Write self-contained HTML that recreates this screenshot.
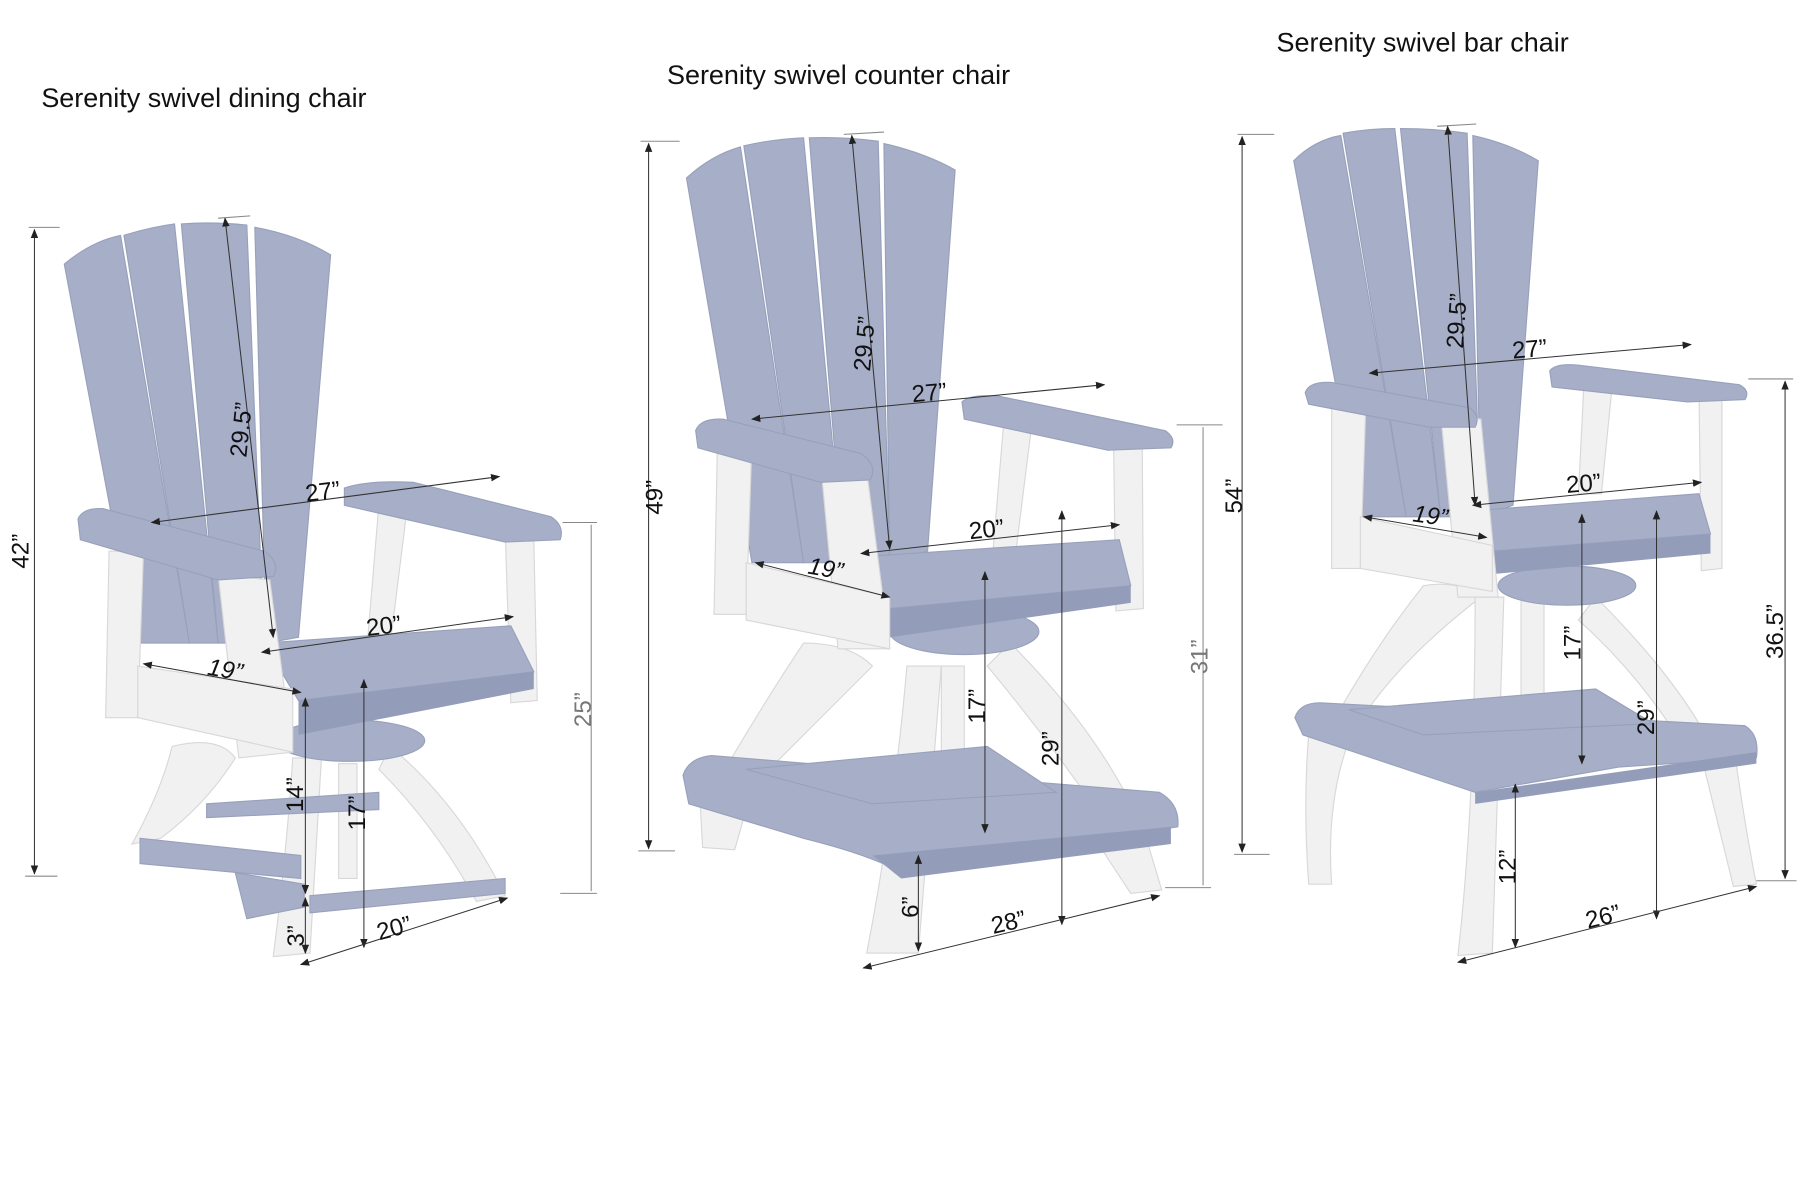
<!DOCTYPE html>
<html><head><meta charset="utf-8"><style>
html,body{margin:0;padding:0;background:#fff;}
svg{display:block;}
text{font-family:"Liberation Sans",sans-serif;fill:#111;}
.b{fill:#a7afc8;stroke:#98a1bb;stroke-width:1;}
.bd{fill:#939dba;}
.w{fill:#f1f1f2;stroke:#d8d8da;stroke-width:1;}
.d{stroke:#333;stroke-width:0.9;fill:none;}
.dg{stroke:#888;stroke-width:0.9;fill:none;}
.t{font-size:21px;}
.h{font-size:23.5px;}
</style></head><body>
<svg width="1800" height="1200" viewBox="0 0 1568 1045" preserveAspectRatio="none" xmlns="http://www.w3.org/2000/svg">
<defs>
<marker id="a" viewBox="0 0 10 10" refX="9" refY="5" markerWidth="9" markerHeight="9" orient="auto-start-reverse"><path d="M0,1 L10,5 L0,9z" fill="#222"/></marker>
</defs>
<rect width="1568" height="1045" fill="#fff"/>

<text class="h" x="36" y="93">Serenity swivel dining chair</text>
<text class="h" x="581" y="73">Serenity swivel counter chair</text>
<text class="h" x="1112" y="45">Serenity swivel bar chair</text>

<!-- ===== Dining chair ===== -->
<g>
<path class="w" d="M150,650 Q190,640 205,660 Q180,700 140,730 L115,735 Q140,690 150,650z"/>
<path class="w" d="M340,650 Q400,700 440,780 L415,785 Q380,720 330,670z"/>
<path class="w" d="M255,660 L280,660 L270,830 L238,833 Q250,740 255,660z"/>
<rect class="w" x="295" y="665" width="16" height="100"/>
<path class="b" d="M122,730 L262,745 L262,765 L122,752z"/>
<path class="b" d="M180,700 L330,690 L330,705 L180,712z"/>
<path class="b" d="M270,780 L440,765 L440,778 L270,795z"/>
<path class="b" d="M205,760 L265,770 L265,790 L215,800z"/>
<ellipse class="b" cx="305" cy="645" rx="65" ry="18"/>
<path class="b" d="M56,230 Q80,210 105,205 L165,560 L118,560z"/>
<path class="b" d="M108,205 Q130,198 152,195 L190,560 L165,560z"/>
<path class="b" d="M158,195 Q185,193 215,196 L230,560 L190,560z"/>
<path class="b" d="M222,198 Q260,205 288,222 L260,555 L232,560z"/>
<path class="w" d="M330,440 L355,440 L340,560 L320,560z"/>
<path class="w" d="M440,460 L465,470 L468,610 L445,612z"/>
<path class="b" d="M230,560 L445,545 L465,585 L260,610z"/>
<path class="bd" d="M260,610 L465,585 L465,600 L260,640z"/>
<path class="w" d="M95,480 L125,480 L120,625 L92,625z"/>
<path class="w" d="M190,500 L235,505 L255,655 L208,660z"/>
<path class="w" d="M120,580 L255,600 L255,655 L120,625z"/>
<path class="b" d="M300,425 Q320,418 360,420 L480,450 Q492,458 488,470 L440,472 L300,440z"/>
<path class="b" d="M68,452 Q72,442 90,443 L230,480 Q245,490 238,502 L190,505 L70,470z"/>
</g>
<line class="dg" x1="25" y1="198" x2="52" y2="198"/><line class="dg" x1="22" y1="763" x2="50" y2="763"/>
<line class="d" x1="30" y1="200" x2="30" y2="761" marker-start="url(#a)" marker-end="url(#a)"/>
<text class="t" transform="translate(25,480) rotate(-90)" text-anchor="middle">42”</text>
<line class="dg" x1="190" y1="190" x2="218" y2="188"/>
<line class="d" x1="196" y1="190" x2="238" y2="555" marker-start="url(#a)" marker-end="url(#a)"/>
<text class="t" transform="translate(217,375) rotate(-84)" text-anchor="middle">29.5”</text>
<line class="d" x1="132" y1="455" x2="435" y2="415" marker-start="url(#a)" marker-end="url(#a)"/>
<text class="t" x="282" y="435" text-anchor="middle" transform="rotate(-7 282 435)">27”</text>
<line class="d" x1="228" y1="568" x2="447" y2="537" marker-start="url(#a)" marker-end="url(#a)"/>
<text class="t" x="335" y="552" text-anchor="middle" transform="rotate(-7 335 552)">20”</text>
<line class="d" x1="125" y1="578" x2="262" y2="603" marker-start="url(#a)" marker-end="url(#a)"/>
<text class="t" x="195" y="590" text-anchor="middle" font-style="italic" transform="rotate(10 195 590)">19”</text>
<line class="d" x1="266" y1="608" x2="266" y2="778" marker-start="url(#a)" marker-end="url(#a)"/>
<text class="t" transform="translate(264,692) rotate(-90)" text-anchor="middle">14”</text>
<line class="d" x1="317" y1="592" x2="317" y2="825" marker-start="url(#a)" marker-end="url(#a)"/>
<text class="t" transform="translate(318,708) rotate(-90)" text-anchor="middle">17”</text>
<line class="d" x1="266" y1="782" x2="266" y2="830" marker-start="url(#a)" marker-end="url(#a)"/>
<text class="t" transform="translate(265,815) rotate(-90)" text-anchor="middle">3”</text>
<line class="d" x1="262" y1="840" x2="442" y2="782" marker-start="url(#a)" marker-end="url(#a)"/>
<text class="t" x="345" y="815" text-anchor="middle" transform="rotate(-15 345 815)">20”</text>
<line class="dg" x1="490" y1="455" x2="520" y2="455"/><line class="dg" x1="488" y1="778" x2="520" y2="778"/>
<line class="dg" x1="515" y1="457" x2="515" y2="776"/>
<text class="t" transform="translate(515,618) rotate(-90)" text-anchor="middle" style="fill:#777">25”</text>

<!-- ===== Counter chair ===== -->
<g>
<path class="w" d="M700,560 Q740,560 760,580 Q700,640 650,690 L620,690 Q660,620 700,560z"/>
<path class="w" d="M880,560 Q950,630 985,700 L955,705 Q910,640 860,580z"/>
<path class="w" d="M790,580 L820,580 L800,830 L755,830 Q780,700 790,580z"/>
<rect class="w" x="820" y="580" width="20" height="100"/>
<path class="w" d="M610,700 L650,705 L640,740 L612,738z"/>
<path class="w" d="M960,740 L1000,735 L1012,775 L985,778z"/>
<ellipse class="b" cx="840" cy="550" rx="65" ry="20"/>
<path class="b" d="M595,675 Q600,660 620,658 L1010,690 Q1028,700 1026,720 L930,735 L785,760 Q760,745 700,730 L600,700z"/>
<path class="bd" d="M760,745 L1020,720 L1020,735 L785,765z"/>
<path class="b" d="M650,670 L860,650 L920,690 L760,700z"/>
<path class="b" d="M598,155 Q620,135 645,128 L700,490 L655,490z"/>
<path class="b" d="M648,127 Q675,121 700,120 L735,490 L700,490z"/>
<path class="b" d="M705,120 Q735,119 765,123 L775,490 L735,490z"/>
<path class="b" d="M770,125 Q805,133 832,148 L808,480 L775,490z"/>
<path class="w" d="M875,360 L900,360 L885,480 L865,480z"/>
<path class="w" d="M970,380 L995,385 L996,530 L972,532z"/>
<path class="b" d="M748,485 L975,470 L985,510 L775,530z"/>
<path class="bd" d="M775,530 L985,510 L985,525 L775,555z"/>
<path class="w" d="M625,385 L655,385 L650,535 L622,535z"/>
<path class="w" d="M715,405 L755,410 L775,565 L730,565z"/>
<path class="w" d="M650,490 L775,520 L775,565 L650,540z"/>
<path class="b" d="M838,350 Q845,343 870,345 L1015,375 Q1025,382 1020,390 L965,392 L840,365z"/>
<path class="b" d="M606,375 Q610,364 630,365 L750,395 Q765,405 758,418 L715,420 L608,390z"/>
</g>
<line class="dg" x1="558" y1="123" x2="592" y2="123"/><line class="dg" x1="556" y1="741" x2="588" y2="741"/>
<line class="d" x1="565" y1="125" x2="565" y2="739" marker-start="url(#a)" marker-end="url(#a)"/>
<text class="t" transform="translate(577,433) rotate(-90)" text-anchor="middle">49”</text>
<line class="dg" x1="735" y1="117" x2="770" y2="115"/>
<line class="d" x1="742" y1="118" x2="775" y2="478" marker-start="url(#a)" marker-end="url(#a)"/>
<text class="t" transform="translate(760,300) rotate(-85)" text-anchor="middle">29.5”</text>
<line class="d" x1="655" y1="365" x2="962" y2="335" marker-start="url(#a)" marker-end="url(#a)"/>
<text class="t" x="810" y="349" text-anchor="middle" transform="rotate(-5 810 349)">27”</text>
<line class="d" x1="750" y1="482" x2="975" y2="457" marker-start="url(#a)" marker-end="url(#a)"/>
<text class="t" x="860" y="468" text-anchor="middle" transform="rotate(-6 860 468)">20”</text>
<line class="d" x1="658" y1="490" x2="775" y2="520" marker-start="url(#a)" marker-end="url(#a)"/>
<text class="t" x="718" y="502" text-anchor="middle" font-style="italic" transform="rotate(10 718 502)">19”</text>
<line class="d" x1="858" y1="498" x2="858" y2="725" marker-start="url(#a)" marker-end="url(#a)"/>
<text class="t" transform="translate(858,615) rotate(-90)" text-anchor="middle">17”</text>
<line class="d" x1="925" y1="445" x2="925" y2="805" marker-start="url(#a)" marker-end="url(#a)"/>
<text class="t" transform="translate(922,652) rotate(-90)" text-anchor="middle">29”</text>
<line class="d" x1="800" y1="745" x2="800" y2="828" marker-start="url(#a)" marker-end="url(#a)"/>
<text class="t" transform="translate(800,790) rotate(-90)" text-anchor="middle">6”</text>
<line class="d" x1="752" y1="843" x2="1010" y2="780" marker-start="url(#a)" marker-end="url(#a)"/>
<text class="t" x="880" y="810" text-anchor="middle" transform="rotate(-13 880 810)">28”</text>
<line class="dg" x1="1025" y1="370" x2="1065" y2="370"/><line class="dg" x1="1015" y1="773" x2="1055" y2="773"/>
<line class="dg" x1="1048" y1="372" x2="1048" y2="771"/>
<text class="t" transform="translate(1052,572) rotate(-90)" text-anchor="middle" style="fill:#777">31”</text>

<!-- ===== Bar chair ===== -->
<g>
<path class="w" d="M1240,510 Q1270,505 1290,520 Q1225,570 1190,620 L1165,622 Q1200,560 1240,510z"/>
<path class="w" d="M1390,520 Q1450,580 1480,630 L1455,632 Q1420,580 1375,540z"/>
<rect class="w" x="1325" y="520" width="20" height="110"/>
<path class="w" d="M1285,520 L1310,520 L1300,830 L1270,832 Q1285,700 1285,520z"/>
<path class="w" d="M1140,640 L1175,645 Q1155,700 1160,770 L1140,770 Q1135,700 1140,640z"/>
<path class="w" d="M1480,650 L1510,648 Q1520,720 1530,770 L1510,772 Q1495,710 1480,650z"/>
<ellipse class="b" cx="1365" cy="510" rx="60" ry="17"/>
<path class="b" d="M1128,625 Q1132,612 1150,612 L1520,632 Q1533,640 1530,660 L1410,668 L1285,690 L1135,640z"/>
<path class="bd" d="M1285,690 L1530,655 L1530,665 L1285,700z"/>
<path class="b" d="M1175,618 L1390,600 L1440,630 L1240,640z"/>
<path class="b" d="M1127,140 Q1145,122 1168,118 L1225,450 L1185,450z"/>
<path class="b" d="M1170,116 Q1193,112 1215,112 L1255,450 L1225,450z"/>
<path class="b" d="M1220,112 Q1250,112 1278,116 L1290,450 L1255,450z"/>
<path class="b" d="M1283,118 Q1315,125 1340,140 L1318,440 L1290,450z"/>
<path class="w" d="M1380,330 L1405,330 L1395,430 L1375,430z"/>
<path class="w" d="M1480,340 L1500,345 L1500,495 L1482,497z"/>
<path class="b" d="M1280,445 L1480,430 L1490,465 L1300,480z"/>
<path class="bd" d="M1300,480 L1490,465 L1490,482 L1300,500z"/>
<path class="w" d="M1160,345 L1190,345 L1185,495 L1160,495z"/>
<path class="w" d="M1255,360 L1290,365 L1305,520 L1270,520z"/>
<path class="w" d="M1185,450 L1300,475 L1300,515 L1185,495z"/>
<path class="b" d="M1350,323 Q1355,316 1375,318 L1515,335 Q1525,340 1520,348 L1470,350 L1352,337z"/>
<path class="b" d="M1137,342 Q1140,332 1160,333 L1280,355 Q1290,362 1285,372 L1245,372 L1140,352z"/>
</g>
<line class="dg" x1="1078" y1="117" x2="1110" y2="117"/><line class="dg" x1="1075" y1="744" x2="1106" y2="744"/>
<line class="d" x1="1082" y1="119" x2="1082" y2="742" marker-start="url(#a)" marker-end="url(#a)"/>
<text class="t" transform="translate(1082,432) rotate(-90)" text-anchor="middle">54”</text>
<line class="dg" x1="1252" y1="110" x2="1286" y2="108"/>
<line class="d" x1="1261" y1="110" x2="1285" y2="440" marker-start="url(#a)" marker-end="url(#a)"/>
<text class="t" transform="translate(1276,280) rotate(-86)" text-anchor="middle">29.5”</text>
<line class="d" x1="1193" y1="325" x2="1473" y2="300" marker-start="url(#a)" marker-end="url(#a)"/>
<text class="t" x="1333" y="311" text-anchor="middle" transform="rotate(-5 1333 311)">27”</text>
<line class="d" x1="1283" y1="440" x2="1482" y2="420" marker-start="url(#a)" marker-end="url(#a)"/>
<text class="t" x="1380" y="428" text-anchor="middle" transform="rotate(-5 1380 428)">20”</text>
<line class="d" x1="1188" y1="450" x2="1295" y2="468" marker-start="url(#a)" marker-end="url(#a)"/>
<text class="t" x="1245" y="456" text-anchor="middle" font-style="italic" transform="rotate(8 1245 456)">19”</text>
<line class="d" x1="1378" y1="448" x2="1378" y2="665" marker-start="url(#a)" marker-end="url(#a)"/>
<text class="t" transform="translate(1377,560) rotate(-90)" text-anchor="middle">17”</text>
<line class="d" x1="1443" y1="445" x2="1443" y2="800" marker-start="url(#a)" marker-end="url(#a)"/>
<text class="t" transform="translate(1441,625) rotate(-90)" text-anchor="middle">29”</text>
<line class="d" x1="1320" y1="683" x2="1320" y2="825" marker-start="url(#a)" marker-end="url(#a)"/>
<text class="t" transform="translate(1320,755) rotate(-90)" text-anchor="middle">12”</text>
<line class="d" x1="1270" y1="838" x2="1530" y2="772" marker-start="url(#a)" marker-end="url(#a)"/>
<text class="t" x="1398" y="805" text-anchor="middle" transform="rotate(-14 1398 805)">26”</text>
<line class="dg" x1="1523" y1="330" x2="1562" y2="330"/><line class="dg" x1="1530" y1="767" x2="1565" y2="767"/>
<line class="d" x1="1555" y1="332" x2="1555" y2="765" marker-start="url(#a)" marker-end="url(#a)"/>
<text class="t" transform="translate(1553,550) rotate(-90)" text-anchor="middle">36.5”</text>
</svg>
</body></html>
